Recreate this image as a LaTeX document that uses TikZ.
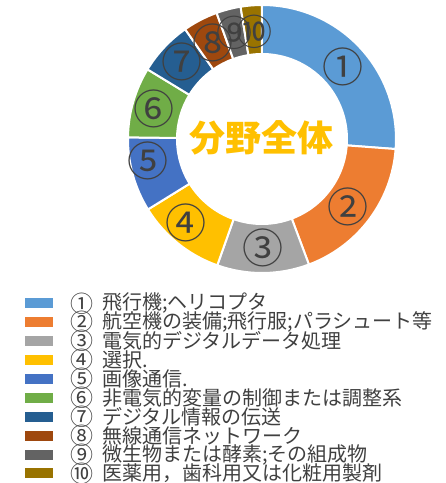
\documentclass[tikz,border=0pt]{standalone}
\usepackage{fontspec}
\setmainfont{Noto Sans CJK JP}
\usepackage{tikz}
\definecolor{seg1}{HTML}{5B9BD5}
\definecolor{seg2}{HTML}{ED7D31}
\definecolor{seg3}{HTML}{A5A5A5}
\definecolor{seg4}{HTML}{FFC000}
\definecolor{seg5}{HTML}{4472C4}
\definecolor{seg6}{HTML}{70AD47}
\definecolor{seg7}{HTML}{255E91}
\definecolor{seg8}{HTML}{9E480E}
\definecolor{seg9}{HTML}{636363}
\definecolor{seg10}{HTML}{997300}
\definecolor{dunkelgrau}{HTML}{404040}

\begin{document}
\begin{tikzpicture}[x=1pt, y=1pt,
  ring/.style={draw=white, line width=2pt},
  ringlabel/.style={text=dunkelgrau, font=\fontsize{41}{41}\selectfont, inner sep=0pt},
  smalllabel/.style={text=dunkelgrau, font=\fontsize{36}{36}\selectfont, inner sep=0pt},
  swatch/.style={minimum width=28pt, minimum height=10pt, inner sep=0pt},
  legnum/.style={text=dunkelgrau, font=\fontsize{23}{23}\selectfont, inner sep=0pt},
  legtext/.style={text=dunkelgrau, font=\fontsize{20}{20}\selectfont, inner sep=0pt, anchor=west}]
\useasboundingbox (-262,-344) rectangle (184,139);
% donut
\filldraw[fill=seg1, ring] (90:134pt) arc[start angle=90, end angle=-4.3, radius=134pt] -- (-4.3:85pt) arc[start angle=-4.3, end angle=90, radius=85pt] -- cycle;
\filldraw[fill=seg2, ring] (-4.3:134pt) arc[start angle=-4.3, end angle=-69.5, radius=134pt] -- (-69.5:85pt) arc[start angle=-69.5, end angle=-4.3, radius=85pt] -- cycle;
\filldraw[fill=seg3, ring] (-69.5:134pt) arc[start angle=-69.5, end angle=-109.5, radius=134pt] -- (-109.5:85pt) arc[start angle=-109.5, end angle=-69.5, radius=85pt] -- cycle;
\filldraw[fill=seg4, ring] (-109.5:134pt) arc[start angle=-109.5, end angle=-148.3, radius=134pt] -- (-148.3:85pt) arc[start angle=-148.3, end angle=-109.5, radius=85pt] -- cycle;
\filldraw[fill=seg5, ring] (-148.3:134pt) arc[start angle=-148.3, end angle=-180.7, radius=134pt] -- (-180.7:85pt) arc[start angle=-180.7, end angle=-148.3, radius=85pt] -- cycle;
\filldraw[fill=seg6, ring] (179.3:134pt) arc[start angle=179.3, end angle=148.7, radius=134pt] -- (148.7:85pt) arc[start angle=148.7, end angle=179.3, radius=85pt] -- cycle;
\filldraw[fill=seg7, ring] (148.7:134pt) arc[start angle=148.7, end angle=125, radius=134pt] -- (125:85pt) arc[start angle=125, end angle=148.7, radius=85pt] -- cycle;
\filldraw[fill=seg8, ring] (125:134pt) arc[start angle=125, end angle=109.8, radius=134pt] -- (109.8:85pt) arc[start angle=109.8, end angle=125, radius=85pt] -- cycle;
\filldraw[fill=seg9, ring] (109.8:134pt) arc[start angle=109.8, end angle=99.2, radius=134pt] -- (99.2:85pt) arc[start angle=99.2, end angle=109.8, radius=85pt] -- cycle;
\filldraw[fill=seg10, ring] (99.2:134pt) arc[start angle=99.2, end angle=90, radius=134pt] -- (90:85pt) arc[start angle=90, end angle=99.2, radius=85pt] -- cycle;
\node[text=seg4, font=\fontsize{36}{36}\selectfont\bfseries, inner sep=0pt] (title) at (0,1) {分野全体};
% ring labels
\node[ringlabel] (lab1) at (80.7,72.3) {①};
\node[ringlabel] (lab2) at (86,-68) {②};
\node[ringlabel] (lab3) at (0.7,-109.3) {③};
\node[ringlabel] (lab4) at (-76,-84) {④};
\node[ringlabel] (lab5) at (-113.7,-21.5) {⑤};
\node[ringlabel] (lab6) at (-108,30) {⑥};
\node[ringlabel] (lab7) at (-80.3,77.3) {⑦};
\node[ringlabel] (lab8) at (-49.3,95.7) {⑧};
\node[smalllabel] (lab9) at (-27,105.7) {⑨};
\node[smalllabel] (lab10) at (-7,107.3) {⑩};
% legend
\node[swatch, fill=seg1] (sw1) at (-223,-164.3) {};
\node[legnum] (num1) at (-179.5,-164.3) {①};
\node[legtext] (txt1) at (-160,-164.3) {飛行機;ヘリコプタ};
\node[swatch, fill=seg2] (sw2) at (-223,-183.2) {};
\node[legnum] (num2) at (-179.5,-183.2) {②};
\node[legtext] (txt2) at (-160,-183.2) {航空機の装備;飛行服;パラシュート等};
\node[swatch, fill=seg3] (sw3) at (-223,-202.1) {};
\node[legnum] (num3) at (-179.5,-202.1) {③};
\node[legtext] (txt3) at (-160,-202.1) {電気的デジタルデータ処理};
\node[swatch, fill=seg4] (sw4) at (-223,-221) {};
\node[legnum] (num4) at (-179.5,-221) {④};
\node[legtext] (txt4) at (-160,-221) {選択.};
\node[swatch, fill=seg5] (sw5) at (-223,-239.9) {};
\node[legnum] (num5) at (-179.5,-239.9) {⑤};
\node[legtext] (txt5) at (-160,-239.9) {画像通信.};
\node[swatch, fill=seg6] (sw6) at (-223,-258.8) {};
\node[legnum] (num6) at (-179.5,-258.8) {⑥};
\node[legtext] (txt6) at (-160,-258.8) {非電気的変量の制御または調整系};
\node[swatch, fill=seg7] (sw7) at (-223,-277.7) {};
\node[legnum] (num7) at (-179.5,-277.7) {⑦};
\node[legtext] (txt7) at (-160,-277.7) {デジタル情報の伝送};
\node[swatch, fill=seg8] (sw8) at (-223,-296.6) {};
\node[legnum] (num8) at (-179.5,-296.6) {⑧};
\node[legtext] (txt8) at (-160,-296.6) {無線通信ネットワーク};
\node[swatch, fill=seg9] (sw9) at (-223,-315.5) {};
\node[legnum] (num9) at (-179.5,-315.5) {⑨};
\node[legtext] (txt9) at (-160,-315.5) {微生物または酵素;その組成物};
\node[swatch, fill=seg10] (sw10) at (-223,-334.4) {};
\node[legnum] (num10) at (-179.5,-334.4) {⑩};
\node[legtext] (txt10) at (-160,-334.4) {医薬用，歯科用又は化粧用製剤};

\end{tikzpicture}
\end{document}
